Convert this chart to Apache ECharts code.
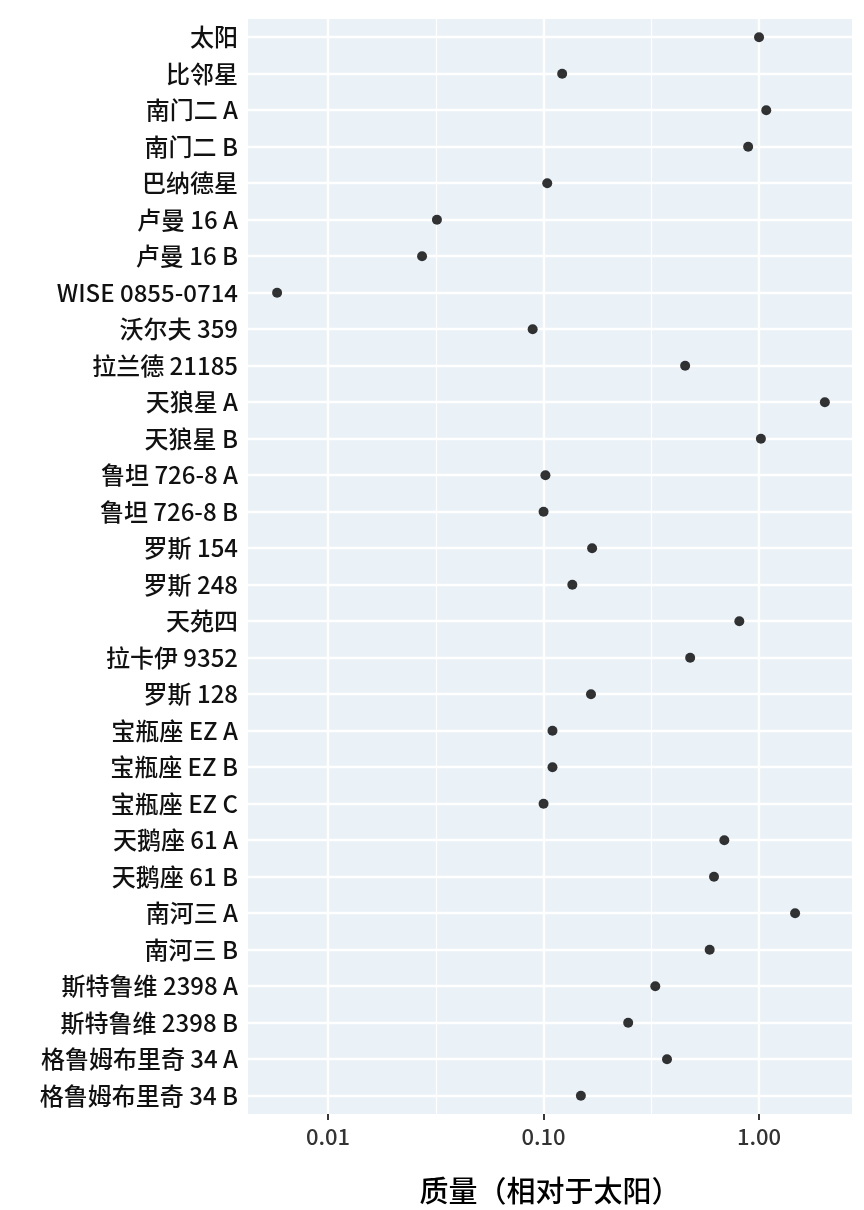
<!DOCTYPE html>
<html><head><meta charset="utf-8">
<script src="https://cdn.jsdelivr.net/npm/echarts@6/dist/echarts.min.js"></script>
<style>html,body{margin:0;padding:0;background:#fff}#c{width:864px;height:1210px}</style>
</head><body><div id="c"></div>
<script>
const stars = ["太阳","比邻星","南门二 A","南门二 B","巴纳德星","卢曼 16 A","卢曼 16 B","WISE 0855-0714","沃尔夫 359","拉兰德 21185","天狼星 A","天狼星 B","鲁坦 726-8 A","鲁坦 726-8 B","罗斯 154","罗斯 248","天苑四","拉卡伊 9352","罗斯 128","宝瓶座 EZ A","宝瓶座 EZ B","宝瓶座 EZ C","天鹅座 61 A","天鹅座 61 B","南河三 A","南河三 B","斯特鲁维 2398 A","斯特鲁维 2398 B","格鲁姆布里奇 34 A","格鲁姆布里奇 34 B"];
const masses = [1.0,0.122,1.08,0.89,0.104,0.032,0.0273,0.0058,0.089,0.454,2.02,1.02,0.102,0.1,0.168,0.136,0.81,0.479,0.166,0.11,0.11,0.1,0.69,0.618,1.47,0.59,0.33,0.247,0.374,0.149];
const majorTicks = [0.01,0.1,1];
const minorTicks = [0.0316,0.316];
const xMin = 0.00425, xMax = 2.7;

const lg = Math.log10;
const chart = echarts.init(document.getElementById('c'));
const font = '"Noto Sans CJK SC","Noto Sans",sans-serif';
const gridLines = [];
minorTicks.forEach(v=>gridLines.push({xAxis:lg(v),lineStyle:{color:'#fff',width:1.2,type:'solid'}}));
majorTicks.forEach(v=>gridLines.push({xAxis:lg(v),lineStyle:{color:'#fff',width:2.4,type:'solid'}}));
stars.forEach(s=>gridLines.push({yAxis:s,lineStyle:{color:'#fff',width:2.4,type:'solid'}}));
chart.setOption({
  animation:false,
  grid:{left:248,right:12,top:19,bottom:85,show:true,backgroundColor:'#EAF1F7',borderWidth:0},
  xAxis:{type:'value',min:lg(xMin),max:lg(xMax),
    name:'质量（相对于太阳）',nameLocation:'middle',nameGap:62,
    nameTextStyle:{fontFamily:font,fontSize:29,color:'#000',fontWeight:500},
    axisLine:{show:false},splitLine:{show:false},
    axisTick:{show:true,customValues:majorTicks.map(lg),length:6,lineStyle:{color:'#222',width:1.8}},
    axisLabel:{customValues:majorTicks.map(lg),formatter:v=>Math.pow(10,v).toFixed(2),fontFamily:font,fontSize:22,color:'#333',margin:12,fontWeight:500}},
  yAxis:{type:'category',data:stars,inverse:true,
    axisLine:{show:false},splitLine:{show:false},
    axisTick:{show:true,alignWithLabel:true,length:6,lineStyle:{color:'#222',width:1.8}},
    axisLabel:{fontFamily:font,fontSize:24,color:'#111',margin:10,fontWeight:500}},
  series:[{type:'scatter',symbolSize:10,itemStyle:{color:'#000'},
    data:stars.map((s,i)=>[lg(masses[i]),s]),z:5,
    markLine:{silent:true,symbol:'none',label:{show:false},data:gridLines,z:1}}]
});
</script></body></html>
